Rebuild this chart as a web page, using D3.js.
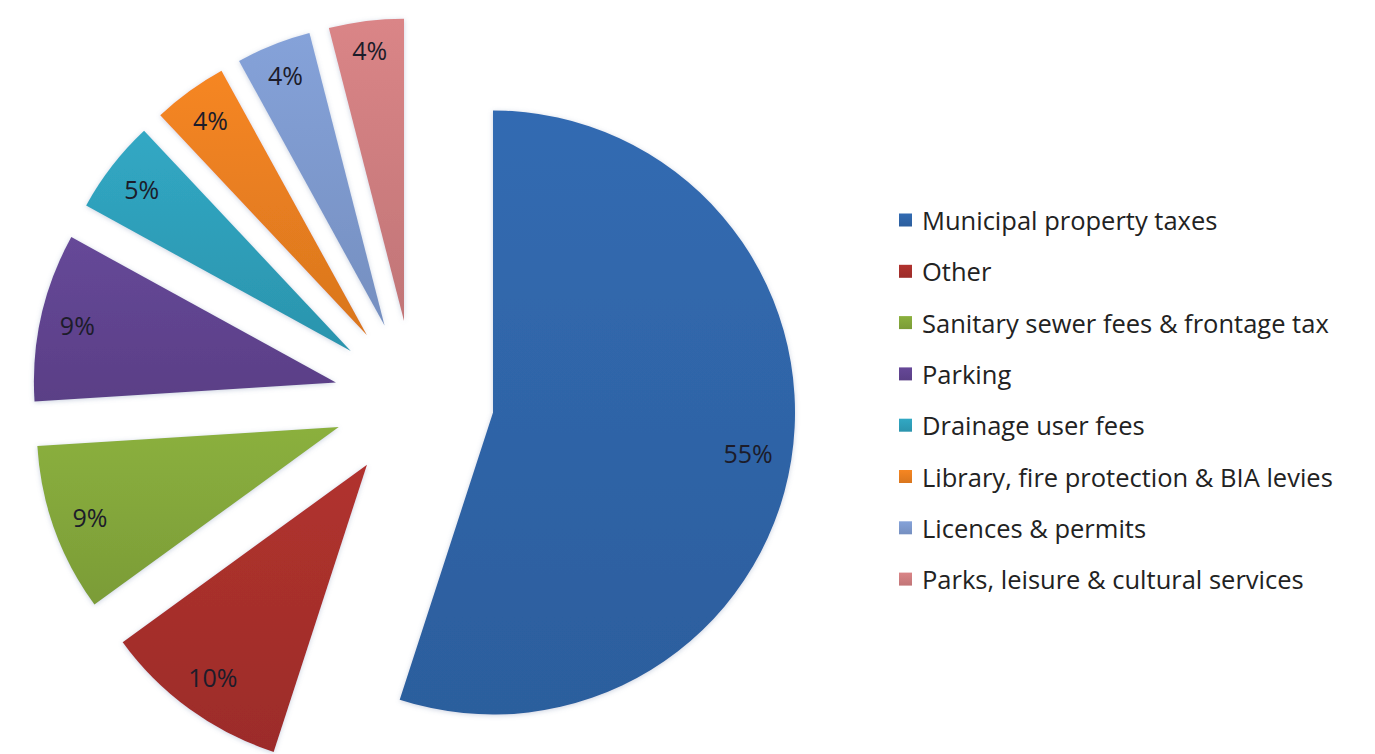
<!DOCTYPE html>
<html>
<head>
<meta charset="utf-8">
<script src="https://cdn.jsdelivr.net/npm/d3@7"></script>
<style>
	body { margin: 0; background: #fff; }
	svg { display: block; }
	text { font-family: "Open Sans", Lato, sans-serif; }
</style>
</head>
<body>
<div id="chart"></div>
<script>
var categories = [
	'Municipal property taxes',
	'Other',
	'Sanitary sewer fees & frontage tax',
	'Parking',
	'Drainage user fees',
	'Library, fire protection & BIA levies',
	'Licences & permits',
	'Parks, leisure & cultural services'
];
var values = [55, 10, 9, 9, 5, 4, 4, 4];
var colors = ['#2f65a9', '#a82f2c', '#84a73b', '#614490', '#2e9fba', '#e97f20', '#7e9ace', '#cf7e80'];

var W = 1375, H = 754;
var cx = 414, cy = 400;   // центр пирога
var R = 302;              // радиус
var explode = 80;         // вынос долей
var labelPad = 18;

var svg = d3.select('#chart').append('svg')
	.attr('width', W)
	.attr('height', H);

var defs = svg.append('defs');

// лёгкий градиент сверху вниз, как в Excel
colors.forEach(function(c, i) {
	var g = defs.append('linearGradient')
		.attr('id', 'grad' + i)
		.attr('x1', 0).attr('y1', 0)
		.attr('x2', 0).attr('y2', 1);
	g.append('stop').attr('offset', '0%').attr('stop-color', d3.color(c).brighter(0.15));
	g.append('stop').attr('offset', '100%').attr('stop-color', d3.color(c).darker(0.2));
});

var shadow = defs.append('filter')
	.attr('id', 'glow')
	.attr('x', '-10%').attr('y', '-10%')
	.attr('width', '120%').attr('height', '120%');
shadow.append('feDropShadow')
	.attr('dx', 0).attr('dy', 1)
	.attr('stdDeviation', 2.5)
	.attr('flood-color', '#6a7fa8')
	.attr('flood-opacity', 0.35);

var pie = d3.pie().sort(null).value(function(d) { return d; });
var arcs = pie(values);

var arc = d3.arc().innerRadius(0).outerRadius(R);

function mid(d) { return (d.startAngle + d.endAngle) / 2; }

var slices = svg.append('g')
	.attr('transform', 'translate(' + cx + ',' + cy + ')')
	.selectAll('g.slice')
	.data(arcs)
	.enter().append('g')
	.attr('class', 'slice')
	.attr('transform', function(d) {
		var a = mid(d);
		return 'translate(' + (Math.sin(a) * explode) + ',' + (-Math.cos(a) * explode) + ')';
	});

slices.append('path')
	.attr('d', arc)
	.attr('fill', function(d, i) { return 'url(#grad' + i + ')'; })
	.attr('filter', 'url(#glow)');

// подписи у внешнего края доли
slices.append('text')
	.text(function(d) { return d.data + '%'; })
	.attr('font-size', 25)
	.attr('fill', '#1c1c2a')
	.attr('text-anchor', 'middle')
	.attr('dominant-baseline', 'central')
	.each(function(d) {
		var w = this.getComputedTextLength();
		var h = 18;
		var a = mid(d);
		var ux = Math.sin(a), uy = -Math.cos(a);
		var dist = R - labelPad - (Math.abs(ux) * w / 2 + Math.abs(uy) * h / 2);
		d3.select(this)
			.attr('x', ux * dist)
			.attr('y', uy * dist);
	});

// легенда
var legendX = 899, legendY = 220, legendStep = 51.3;
var legend = svg.append('g')
	.selectAll('g.item')
	.data(categories)
	.enter().append('g')
	.attr('class', 'item')
	.attr('transform', function(d, i) { return 'translate(' + legendX + ',' + (legendY + i * legendStep) + ')'; });

legend.append('rect')
	.attr('x', 0).attr('y', -6.5)
	.attr('width', 13).attr('height', 13)
	.attr('fill', function(d, i) { return 'url(#grad' + i + ')'; });

legend.append('text')
	.attr('x', 23)
	.attr('y', 0)
	.attr('dominant-baseline', 'central')
	.attr('font-size', 25.5)
	.attr('fill', '#222')
	.text(function(d) { return d; });
</script>
</body>
</html>
